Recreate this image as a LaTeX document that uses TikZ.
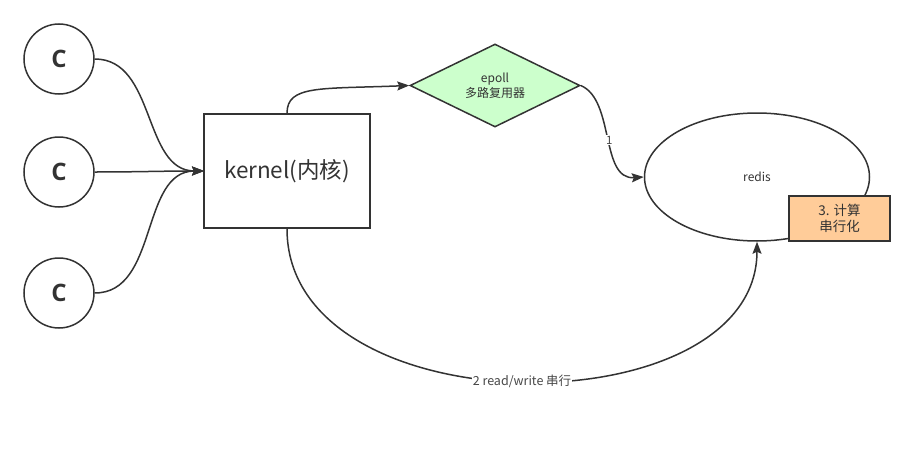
\documentclass[tikz,border=0pt]{standalone}
\usepackage{fontspec}
\setmainfont{Noto Sans CJK SC}
\newfontfamily\cfont{Open Sans}
\usetikzlibrary{shapes.geometric,arrows.meta}
\definecolor{ln}{HTML}{333333}
\definecolor{greenf}{HTML}{CCFFCC}
\definecolor{orangef}{HTML}{FFCC99}
\tikzset{
  cnode/.style={circle,draw=ln,line width=1.5pt,minimum size=70pt,inner sep=0pt,font=\cfont\bfseries\fontsize{24}{28}\selectfont,text=ln},
  conn/.style={draw=ln,line width=1.5pt,-{Stealth[length=12pt,width=9pt,inset=2pt]}},
  lbl/.style={fill=white,inner sep=1pt,text=ln!90,font=\fontsize{11.5}{13}\selectfont},
}
\begin{document}
\begin{tikzpicture}[x=1pt,y=-1pt]
\useasboundingbox (0,0) rectangle (916,455);
\node[cnode] (c1) at (59,59) {C};
\node[cnode] (c2) at (59,172) {C};
\node[cnode] (c3) at (59,293) {C};
\node[draw=ln,line width=1.5pt,minimum width=166pt,minimum height=114pt,inner sep=0pt,text=ln,font=\fontsize{22.5}{26}\selectfont] (k) at (287,171) {kernel(内核)};
\node[diamond,aspect=2.05,draw=ln,line width=1.5pt,fill=greenf,minimum width=170pt,minimum height=83pt,inner sep=0pt,text=ln,align=center,font=\fontsize{12}{15}\selectfont] (ep) at (495,85.5) {epoll\\多路复用器};
\node[ellipse,draw=ln,line width=1.5pt,minimum width=225pt,minimum height=128pt,inner sep=0pt,text=ln,font=\fontsize{12}{14}\selectfont] (r) at (757,177) {redis};
\node[draw=ln,line width=1.5pt,fill=orangef,minimum width=101pt,minimum height=45pt,inner sep=0pt,align=center,text=ln,font=\fontsize{13.5}{16.5}\selectfont] (o) at (839.5,218.5) {3. 计算\\串行化};
\coordinate (kin) at (204,171);
\draw[conn] (c1.east) to[out=0,in=180] (kin);
\draw[conn] (c2.east) to[out=0,in=180] (kin);
\draw[conn] (c3.east) to[out=0,in=180] (kin);
\draw[conn] (k.north) .. controls (287,85) and (320,89) .. (ep.west);
\draw[conn] (ep.east) .. controls (615,100) and (600,180) .. node[lbl,pos=0.52] {1} (r.west);
\draw[conn] (k.south) .. controls (287,430) and (757,430) .. node[lbl,pos=0.5,font=\fontsize{12.5}{14}\selectfont] {2 read/write 串行} (r.south);
\end{tikzpicture}
\end{document}
